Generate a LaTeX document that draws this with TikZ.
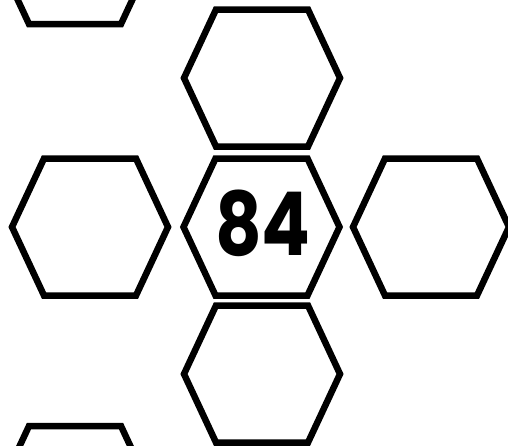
\documentclass[tikz,border=0pt]{standalone}
\usepackage{fontspec}
\usepackage{tikz}
\usetikzlibrary{positioning}
\newfontfamily\numfont{Poppins}

\begin{document}
\begin{tikzpicture}[
    x=1pt, y=-1pt,
    hexline/.style={draw=black, line width=6.5pt, line join=miter},
    hexcell/.pic={
        \draw[hexline] (-78,0) -- (-46,-68.5) -- (46,-68.5) -- (78,0)
            -- (46,68.5) -- (-46,68.5) -- cycle;
    },
    numlabel/.style={font=\numfont\bfseries\fontsize{88}{88}\selectfont, inner sep=0pt, xscale=0.82},
]
\useasboundingbox (0,0) rectangle (508,445);
\coordinate (mid) at (261.5,227);
\coordinate (up) at (262,78);
\coordinate (down) at (262,374);
\coordinate (west) at (90,227);
\coordinate (east) at (431,227);
\coordinate (nw) at (75,-44.5);
\coordinate (sw) at (75,494.5);
\foreach \c in {mid,up,down,west,east,nw,sw}
    \pic at (\c) {hexcell};
\node[numlabel] (num) at (263,223) {84};
\end{tikzpicture}
\end{document}
